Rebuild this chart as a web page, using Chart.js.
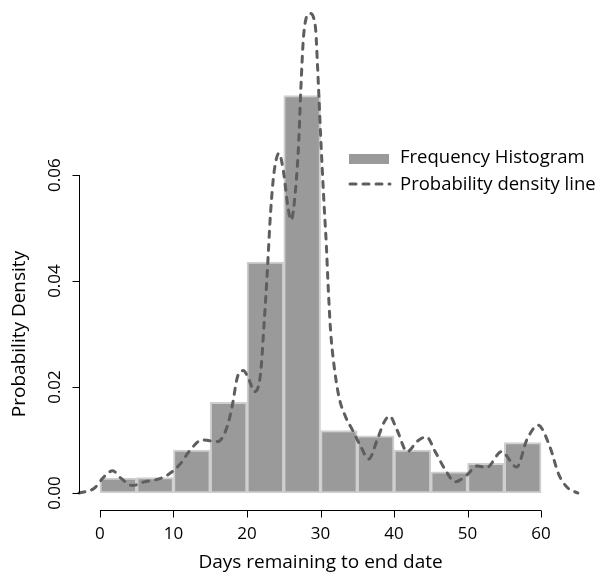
<!DOCTYPE html>
<html>
<head>
<meta charset="utf-8">
<script src="https://cdn.jsdelivr.net/npm/chart.js@4.4.1/dist/chart.umd.min.js"></script>
<style>
  html, body { margin: 0; padding: 0; background: #fff; }
  canvas { display: block; }
</style>
</head>
<body>
<canvas id="chart" width="600" height="576"></canvas>
<script>
// histogram bins (start of each 5-day bin) and their density
const binStarts = [0, 5, 10, 15, 20, 25, 30, 35, 40, 45, 50, 55];
const binDensity = [0.0028, 0.0029, 0.0081, 0.0171, 0.0436, 0.0750, 0.0118, 0.0108, 0.0081, 0.0040, 0.0056, 0.0095];
const binWidth = 5;

// kernel density line
const densX = [-2.85, -0.77, 0.58, 1.72, 2.85, 4.43, 6.0, 7.6, 9.2, 11.0, 12.1, 13.9, 16.0, 17.3, 18.0,
  18.7, 19.5, 20.3, 21.0, 21.85, 22.3, 22.75, 23.2, 23.66, 24.34, 25.0, 25.56, 26.0, 26.6, 27.05,
  27.3, 27.73, 28.55, 29.3, 29.6, 30.0, 30.45, 30.8, 31.0, 31.36, 31.8, 32.5, 33.4, 34.3, 35.4,
  36.56, 37.7, 38.7, 39.4, 40.4, 41.8, 43.1, 44.4, 45.6, 47.0, 48.3, 49.9, 51.3, 52.6, 54.6,
  56.7, 58.05, 59.6, 61.2, 62.4, 63.6, 65.0];
const densY = [0.0000, 0.0009, 0.0031, 0.0042, 0.0028, 0.0014, 0.0021, 0.0025, 0.0034, 0.0056, 0.0078, 0.0100, 0.0097, 0.0125, 0.0165,
  0.0219, 0.0231, 0.0213, 0.0191, 0.0226, 0.0314, 0.0415, 0.0528, 0.0603, 0.0641, 0.0603, 0.0540, 0.0515, 0.0572, 0.0666,
  0.0755, 0.0868, 0.0905, 0.0880, 0.0804, 0.0679, 0.0553, 0.0465, 0.0402, 0.0308, 0.0245, 0.0182, 0.0144, 0.0120, 0.0090,
  0.0064, 0.0100, 0.0135, 0.0145, 0.0119, 0.0078, 0.0097, 0.0106, 0.0078, 0.0043, 0.0021, 0.0034, 0.0051, 0.0048, 0.0078,
  0.0049, 0.0100, 0.0128, 0.0087, 0.0035, 0.0010, 0.0000];

const xTicks = [0, 10, 20, 30, 40, 50, 60];
const yTicks = [0.00, 0.02, 0.04, 0.06];
const xTitle = "Days remaining to end date";
const yTitle = "Probability Density";
const legendLabels = ["Frequency Histogram", "Probability density line"];

const FAMILY = "'Open Sans', sans-serif";
const barFill = "#9a9a9a";
const lineColor = "#5e5e5e";

// R style detached axes + legend
const rAxes = {
  id: "rAxes",
  afterDraw(chart) {
    const ctx = chart.ctx;
    const xs = chart.scales.x, ys = chart.scales.y;
    ctx.save();
    ctx.strokeStyle = "#000";
    ctx.fillStyle = "#000";
    ctx.lineWidth = 1;

    // x axis
    const axY = 510.5;
    ctx.beginPath();
    ctx.moveTo(xs.getPixelForValue(xTicks[0]), axY);
    ctx.lineTo(xs.getPixelForValue(xTicks[xTicks.length - 1]), axY);
    xTicks.forEach(t => {
      const px = Math.round(xs.getPixelForValue(t)) + 0.5;
      ctx.moveTo(px, axY);
      ctx.lineTo(px, axY + 7);
    });
    ctx.stroke();
    ctx.textAlign = "center";
    ctx.textBaseline = "middle";
    ctx.font = "17px " + FAMILY;
    xTicks.forEach(t => ctx.fillText(String(t), xs.getPixelForValue(t), 534));
    ctx.font = "19px " + FAMILY;
    ctx.fillText(xTitle, (xs.getPixelForValue(xTicks[0]) + xs.getPixelForValue(xTicks[xTicks.length - 1])) / 2, 563);

    // y axis
    const axX = 79.5;
    ctx.beginPath();
    ctx.moveTo(axX, ys.getPixelForValue(yTicks[0]));
    ctx.lineTo(axX, ys.getPixelForValue(yTicks[yTicks.length - 1]));
    yTicks.forEach(t => {
      const py = Math.round(ys.getPixelForValue(t)) + 0.5;
      ctx.moveTo(axX, py);
      ctx.lineTo(axX - 7, py);
    });
    ctx.stroke();
    ctx.font = "17px " + FAMILY;
    yTicks.forEach(t => {
      ctx.save();
      ctx.translate(55, ys.getPixelForValue(t));
      ctx.rotate(-Math.PI / 2);
      ctx.fillText(t.toFixed(2), 0, 0);
      ctx.restore();
    });
    ctx.font = "19px " + FAMILY;
    ctx.save();
    ctx.translate(20, 334);
    ctx.rotate(-Math.PI / 2);
    ctx.fillText(yTitle, 0, 0);
    ctx.restore();

    // legend
    ctx.textAlign = "left";
    ctx.fillStyle = barFill;
    ctx.fillRect(349, 154, 40, 10);
    ctx.strokeStyle = lineColor;
    ctx.lineWidth = 3;
    ctx.lineCap = "round";
    ctx.setLineDash([6, 7]);
    ctx.beginPath();
    ctx.moveTo(350, 184);
    ctx.lineTo(390, 184);
    ctx.stroke();
    ctx.setLineDash([]);
    ctx.fillStyle = "#000";
    ctx.font = "18.5px " + FAMILY;
    ctx.fillText(legendLabels[0], 400, 158);
    ctx.fillText(legendLabels[1], 400, 185);
    ctx.restore();
  }
};

new Chart(document.getElementById("chart").getContext("2d"), {
  type: "bar",
  data: {
    datasets: [
      {
        type: "line",
        label: legendLabels[1],
        data: densX.map((x, i) => ({ x: x, y: densY[i] })),
        borderColor: lineColor,
        borderWidth: 3,
        borderDash: [6, 7],
        borderCapStyle: "round",
        pointRadius: 0,
        fill: false,
        cubicInterpolationMode: "monotone",
        clip: false,
        order: 0
      },
      {
        type: "bar",
        label: legendLabels[0],
        data: binStarts.map((s, i) => ({ x: s + binWidth / 2, y: binDensity[i] })),
        backgroundColor: barFill,
        borderColor: "#cfcfcf",
        borderWidth: 2,
        borderSkipped: false,
        barPercentage: 1,
        categoryPercentage: 1,
        order: 1
      }
    ]
  },
  options: {
    responsive: false,
    animation: false,
    devicePixelRatio: 1,
    layout: { padding: { left: 79, right: 22, top: 5, bottom: 83 } },
    scales: {
      x: { type: "linear", min: -2.85, max: 65.02, offset: false, display: false },
      y: { min: 0, max: 0.0921, display: false }
    },
    plugins: {
      legend: { display: false },
      tooltip: { enabled: false }
    }
  },
  plugins: [rAxes]
});
</script>
</body>
</html>
